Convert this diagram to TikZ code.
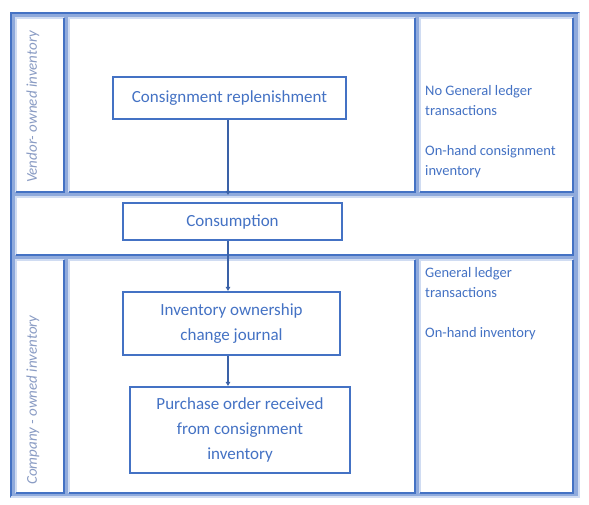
\documentclass[tikz,border=0pt]{standalone}
\usepackage{fontspec}
\setmainfont{Carlito}
\usetikzlibrary{arrows.meta}
\definecolor{tblue}{HTML}{4472C4}
\definecolor{gapblue}{HTML}{8FAADC}
\definecolor{paleblue}{HTML}{D0DCF2}
\definecolor{lanegray}{HTML}{8A9CC4}
\newcommand\tpanel[4]{%
        \fill[white] (#1,#2) rectangle (#3,#4);
        \draw[paleblue, line width=1.5pt] (#1,#4) -- (#1,#2) -- (#3,#2);
        \draw[tblue, line width=2pt] (#3,#2) -- (#3,#4) -- (#1,#4);}
\tikzset{
        stepbox/.style={draw=tblue, line width=2.2pt, fill=white, text=tblue, align=center,
                inner sep=0pt, font=\fontsize{17}{25}\selectfont},
        note/.style={text=tblue, align=left, anchor=north west, inner sep=0pt,
                font=\fontsize{14.5}{19.5}\selectfont},
        lane/.style={text=lanegray, rotate=90, inner sep=0pt, font=\fontsize{15}{18}\selectfont\itshape},
        flow/.style={draw=tblue!85!black, line width=2pt, -{Triangle[length=4pt,width=4.5pt]}}
}
\begin{document}
\begin{tikzpicture}[x=1pt,y=-1pt]
        \useasboundingbox (0,0) rectangle (589,504);
        \fill[gapblue] (10,12) rectangle (580,498);
        \draw[tblue, line width=2pt] (11,497) -- (11,13) -- (579,13);
        \draw[paleblue, line width=2pt] (579,13) -- (579,497) -- (11,497);
        \tpanel{16}{18}{64}{192}
        \tpanel{69}{18}{415}{192}
        \tpanel{420}{18}{573}{192}
        \tpanel{16}{197}{573}{255}
        \tpanel{16}{260}{64}{493}
        \tpanel{69}{260}{415}{493}
        \tpanel{420}{260}{573}{493}
        \node[stepbox, minimum width=233pt, minimum height=42pt] (replenish) at (229.5,98) {Consignment replenishment};
        \node[stepbox, minimum width=219pt, minimum height=37pt] (consume) at (232.5,221.5) {Consumption};
        \node[stepbox, minimum width=217pt, minimum height=63pt] (ownership) at (231.5,323.5) {Inventory ownership\\change journal};
        \node[stepbox, minimum width=220pt, minimum height=86pt] (receipt) at (240,430) {Purchase order received\\from consignment\\inventory};
        \coordinate (axis) at (228,0);
        \draw[flow, shorten >=7pt] (replenish.south -| axis) -- (consume.north -| axis);
        \draw[flow] (consume.south -| axis) -- (ownership.north -| axis);
        \draw[flow] (ownership.south -| axis) -- (receipt.north -| axis);
        \node[note] (vendorgl) at (425,85.5) {No General ledger\\transactions\\[21pt]On-hand consignment\\inventory};
        \node[note] (companygl) at (425,267.5) {General ledger\\transactions\\[21pt]On-hand inventory};
        \node[lane] (vendorlane) at (33,107) {Vendor- owned inventory};
        \node[lane] (companylane) at (33,400) {Company - owned inventory};
\end{tikzpicture}
\end{document}
